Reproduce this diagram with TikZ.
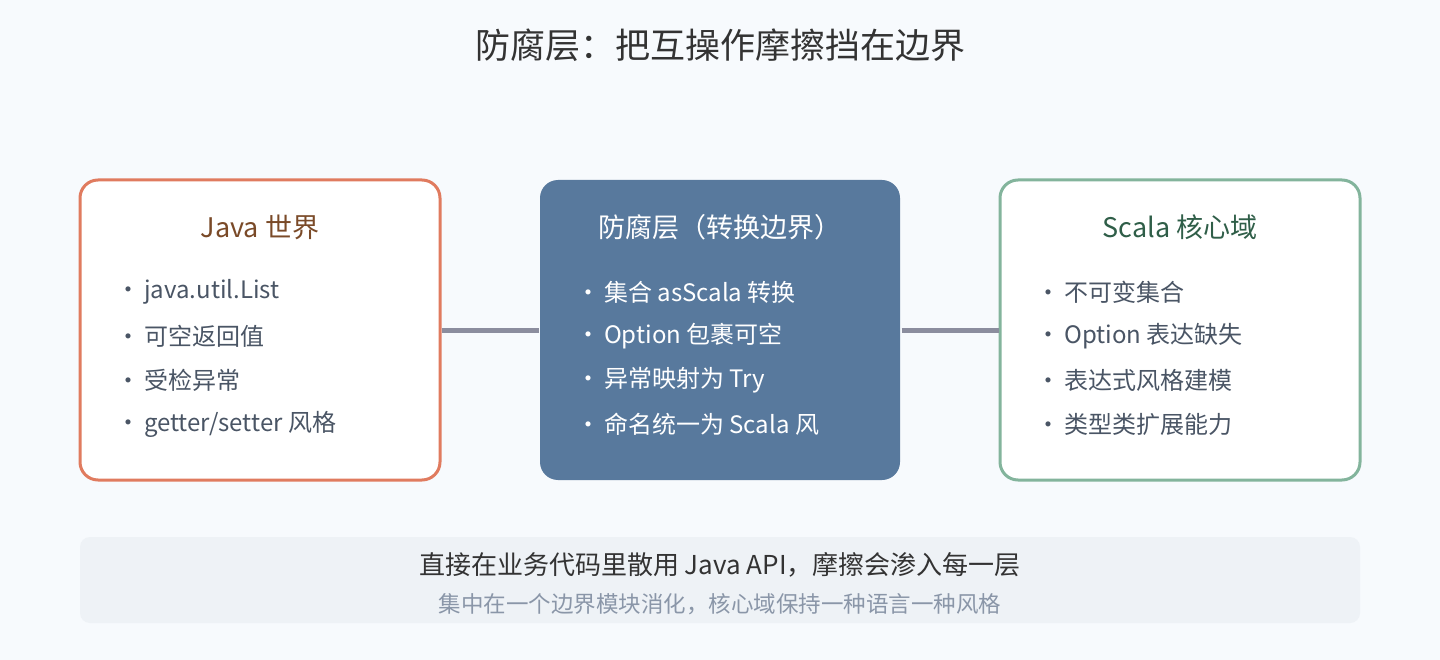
\documentclass[tikz,border=0pt]{standalone}
\usepackage{fontspec}
\setmainfont{Noto Sans CJK SC}
\usetikzlibrary{positioning}
\definecolor{bgc}{HTML}{F7FAFD}
\definecolor{javac}{HTML}{E07B5F}
\definecolor{acl}{HTML}{58799D}
\definecolor{scalac}{HTML}{83B49C}
\definecolor{linkc}{HTML}{8B8D9E}
\definecolor{itemc}{HTML}{4A5565}
\definecolor{notec}{HTML}{EEF2F6}
\definecolor{subc}{HTML}{8A96A8}
\definecolor{javah}{HTML}{7A4A28}
\definecolor{scalah}{HTML}{2F5E48}

\begin{document}
\begin{tikzpicture}[x=1pt,y=-1pt]
    \tikzstyle{box}=[rounded corners=18pt,minimum width=360pt,minimum height=300pt,inner sep=0pt, line width=3pt]
    \tikzstyle{java box}=[box, draw=javac, fill=white]
    \tikzstyle{acl box}=[box, fill=acl]
    \tikzstyle{scala box}=[box, draw=scalac, fill=white]
    \tikzstyle{head}=[font=\fontsize{27}{32}\selectfont]
    \tikzstyle{item}=[anchor=west, font=\fontsize{24}{28}\selectfont, color=itemc, inner sep=0pt]
    \tikzstyle{link}=[draw=linkc, line width=5pt]

    \fill[bgc] (0,0) rectangle (1440,660);
    \useasboundingbox (0,0) rectangle (1440,660);

    % Title
    \node[font=\fontsize{35}{40}\selectfont, color=black!80] (title) at (720,45) {防腐层：把互操作摩擦挡在边界};

    % Draw the three boxes
    \node[java box] (J) at (260,330) {};
    \node[acl box] (A) at (720,330) {};
    \node[scala box] (S) at (1180,330) {};

    % Connect the boxes
    \draw[link] (J.east) -- (A.west);
    \draw[link] (A.east) -- (S.west);

    % Box headers
    \node[head, color=javah] (J-h) at (260,227) {Java 世界};
    \node[head, color=white] (A-h) at (720,227) {防腐层（转换边界）};
    \node[head, color=scalah] (S-h) at (1180,227) {Scala 核心域};

    % Box items
    \foreach \txt [count=\i] in {java.util.List, 可空返回值, 受检异常, getter/setter 风格}
        \node[item] (J-\i) at (116, 248+44*\i) {·\,\txt};
    \foreach \txt [count=\i] in {集合 asScala 转换, Option 包裹可空, 异常映射为 Try, 命名统一为 Scala 风}
        \node[item, color=white] (A-\i) at (576, 248+44*\i) {·\,\txt};
    \foreach \txt [count=\i] in {不可变集合, Option 表达缺失, 表达式风格建模, 类型类扩展能力}
        \node[item] (S-\i) at (1036, 248+44*\i) {·\,\txt};

    % Bottom note
    \fill[notec, rounded corners=10pt] (80,537) rectangle (1360,623);
    \node[font=\fontsize{26}{30}\selectfont, color=black!80] (note-1) at (720,565) {直接在业务代码里散用 Java API，摩擦会渗入每一层};
    \node[font=\fontsize{22.5}{26}\selectfont, color=subc] (note-2) at (720,604) {集中在一个边界模块消化，核心域保持一种语言一种风格};
\end{tikzpicture}
\end{document}
